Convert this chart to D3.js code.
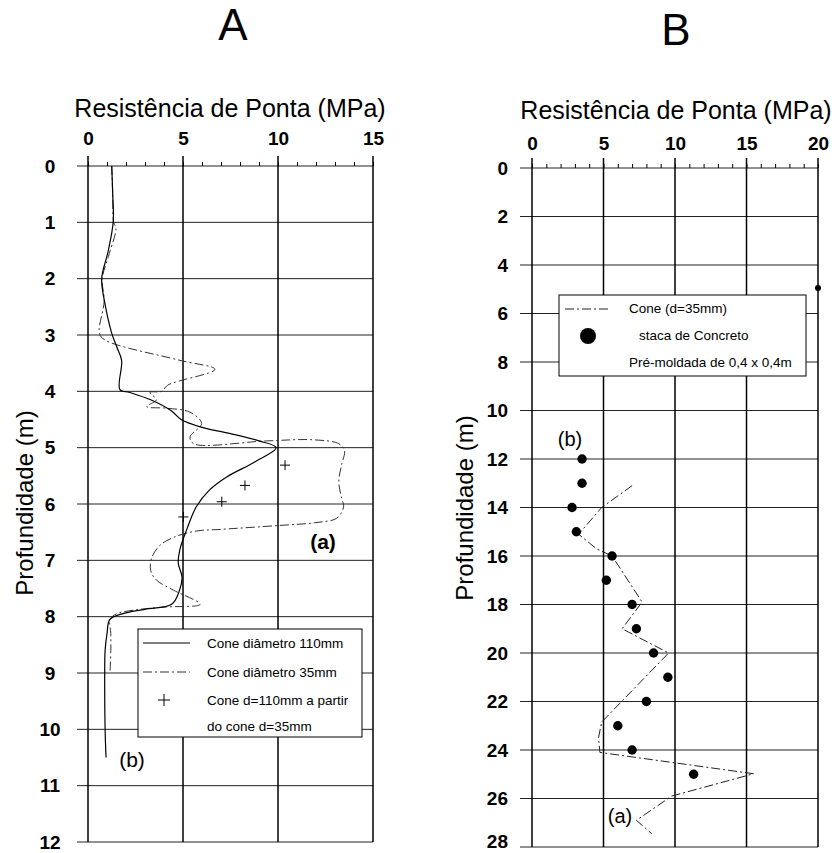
<!DOCTYPE html>
<html>
<head>
<meta charset="utf-8">
<script src="https://cdn.jsdelivr.net/npm/d3@7"></script>
<style>
  body { margin: 0; background: #fff; }
  svg { display: block; font-family: "Liberation Sans", Arial, sans-serif; }
  .tick text { font-family: "Liberation Sans", Arial, sans-serif; }
</style>
</head>
<body>
<svg id="vis" width="837" height="853"></svg>
<script>
// ---- panel A data (depth m, resistance MPa) ----
var coneA110 = [
  [1.25,0],[1.3,0.5],[1.33,0.98],[1.07,1.5],[0.72,2.0],[0.89,2.44],[1.25,2.97],[1.5,3.2],
  [1.77,3.45],[1.68,3.97],[2.2,4.02],[3.3,4.15],[4.4,4.35],[4.9,4.5],[6.0,4.64],[7.5,4.75],
  [9.0,4.88],[9.9,5.0],[8.8,5.25],[7.3,5.52],[6.4,5.75],[5.7,6.05],[5.2,6.45],[4.84,6.8],
  [4.75,7.05],[4.95,7.3],[4.8,7.55],[4.4,7.78],[3.0,7.87],[1.8,7.95],[1.15,8.05],[1.0,8.3],
  [0.9,8.6],[0.88,9.0],[0.9,10.0],[0.95,10.5]
];
var coneA35 = [
  [1.25,0],[1.3,0.5],[1.35,1.0],[1.47,1.11],[1.07,1.61],[0.75,2.0],[0.85,2.4],[0.6,2.97],
  [0.9,3.09],[4.84,3.45],[6.68,3.61],[4.2,3.89],[3.88,4.0],[3.26,4.02],[3.6,4.15],[3.09,4.27],
  [4.14,4.3],[5.37,4.37],[5.98,4.57],[5.37,4.81],[5.56,4.93],[9.4,4.88],[11.86,4.86],[13.2,4.93],
  [13.5,5.05],[13.35,5.3],[13.2,5.6],[13.35,5.9],[13.45,6.05],[13.1,6.25],[12.0,6.33],[10.1,6.38],
  [7.0,6.45],[5.7,6.48],[4.6,6.58],[3.8,6.73],[3.35,6.96],[3.3,7.18],[3.6,7.35],[4.5,7.53],
  [5.9,7.78],[4.0,7.83],[2.5,7.88],[1.5,7.95],[1.16,8.05],[1.2,8.3],[1.2,8.6],[1.16,9.0]
];
var crossesA = [[10.37,5.31],[8.26,5.67],[7.04,5.96],[5.02,6.23]];

// ---- panel B data ----
var coneB35 = [
  [7.0,13.1],[4.87,14.0],[3.26,15.1],[4.5,15.7],[5.6,16.0],[7.7,17.9],[6.3,19.0],[9.55,20.0],
  [4.87,22.85],[4.65,23.5],[4.75,24.1],[15.5,24.98],[9.77,25.9],[7.3,26.9],[8.37,27.45]
];
var pileB = [
  [20,4.95],[3.5,12],[3.5,13],[2.8,14],[3.1,15],[5.6,16],[5.2,17],[7.0,18],[7.3,19],
  [8.5,20],[9.5,21],[8.0,22],[6.0,23],[7.0,24],[11.3,25]
];

var xTicksA = [0,5,10,15];
var yTicksA = d3.range(0,13,1);
var xTicksB = [0,5,10,15,20];
var yTicksB = d3.range(0,29,2);

var legendA = ["Cone diâmetro 110mm","Cone diâmetro 35mm","Cone d=110mm a partir","do cone d=35mm"];
var legendB = ["Cone (d=35mm)","staca de Concreto","Pré-moldada de 0,4 x 0,4m"];

var svg = d3.select("#vis");
var FONT = "'Liberation Sans', Arial, sans-serif";
var DASH35 = "9,3,2,3";

function panel(opt) {
  var x = opt.x, y = opt.y;
  var g = svg.append("g");
  var x0 = x.range()[0], x1 = x.range()[1];
  var y0 = y.range()[0], y1 = y.range()[1];

  // horizontal grid
  g.append("g").selectAll("line").data(opt.yTicks).enter().append("line")
    .attr("x1", opt.gridLeft).attr("x2", x1)
    .attr("y1", function(d) { return y(d); }).attr("y2", function(d) { return y(d); })
    .attr("stroke", "#222").attr("stroke-width", 1);
  // vertical grid
  g.append("g").selectAll("line").data(opt.xTicks).enter().append("line")
    .attr("x1", function(d) { return x(d); }).attr("x2", function(d) { return x(d); })
    .attr("y1", y0 - 10).attr("y2", y1)
    .attr("stroke", "#000").attr("stroke-width", 1.5);

  // minor ticks on top
  var minor = d3.axisTop(x).tickValues(d3.range(x.domain()[0], x.domain()[1] + 1, 1))
    .tickSize(4).tickFormat("");
  g.append("g").attr("transform", "translate(0," + y0 + ")").call(minor)
    .call(function(s) { s.select(".domain").remove(); })
    .selectAll("line").attr("stroke", "#000");

  // top labels
  var top = d3.axisTop(x).tickValues(opt.xTicks).tickSize(0).tickPadding(opt.topPad);
  g.append("g").attr("transform", "translate(0," + y0 + ")").call(top)
    .call(function(s) { s.select(".domain").remove(); })
    .selectAll("text").attr("font-size", 19).attr("font-weight", "bold").attr("fill", "#000");

  // left labels
  var left = d3.axisLeft(y).tickValues(opt.yTicks).tickSize(0);
  var la = g.append("g").attr("transform", "translate(" + x0 + ",0)").call(left)
    .call(function(s) { s.select(".domain").remove(); });
  la.selectAll("text").attr("font-size", 19).attr("font-weight", "bold").attr("fill", "#000")
    .attr("x", opt.leftX - x0).attr("text-anchor", opt.leftAnchor)
    .attr("dy", function(d) { return y(d) > 844 ? "0.05em" : "0.32em"; });

  // axis titles
  g.append("text").attr("x", opt.titleX).attr("y", opt.titleY)
    .attr("text-anchor", "middle").attr("font-size", 25).attr("font-family", FONT)
    .text("Resistência de Ponta (MPa)");
  g.append("text")
    .attr("transform", "translate(" + opt.ylabX + "," + opt.ylabY + ") rotate(-90)")
    .attr("text-anchor", "middle").attr("font-size", 24).attr("font-family", FONT)
    .text("Profundidade (m)");
  g.append("text").attr("x", opt.panelX).attr("y", opt.panelY)
    .attr("text-anchor", "middle").attr("font-size", 44).attr("font-family", FONT)
    .text(opt.name);
  return g;
}

// ---------------- panel A ----------------
var xA = d3.scaleLinear().domain([0,15]).range([88,373]);
var yA = d3.scaleLinear().domain([0,12]).range([166,842]);
var gA = panel({x: xA, y: yA, xTicks: xTicksA, yTicks: yTicksA, gridLeft: 77, topPad: 21,
  leftX: 50, leftAnchor: "middle", titleX: 230, titleY: 117, ylabX: 33, ylabY: 503,
  panelX: 233, panelY: 40, name: "A"});

var lineA = d3.line().x(function(d) { return xA(d[0]); }).y(function(d) { return yA(d[1]); })
  .curve(d3.curveCatmullRom.alpha(0.5));
gA.append("path").datum(coneA35).attr("d", lineA).attr("fill", "none")
  .attr("stroke", "#333").attr("stroke-width", 1).attr("stroke-dasharray", DASH35);
gA.append("path").datum(coneA110).attr("d", lineA).attr("fill", "none")
  .attr("stroke", "#000").attr("stroke-width", 1.2);

function cross(g, cx, cy, s) {
  g.append("line").attr("x1", cx - s).attr("x2", cx + s).attr("y1", cy).attr("y2", cy)
    .attr("stroke", "#000").attr("stroke-width", 1);
  g.append("line").attr("x1", cx).attr("x2", cx).attr("y1", cy - s).attr("y2", cy + s)
    .attr("stroke", "#000").attr("stroke-width", 1);
}
crossesA.forEach(function(d) { cross(gA, xA(d[0]), yA(d[1]), 5); });

gA.append("text").attr("x", 323).attr("y", 549).attr("text-anchor", "middle")
  .attr("font-size", 21).attr("font-weight", "bold").text("(a)");
gA.append("text").attr("x", 132).attr("y", 767).attr("text-anchor", "middle")
  .attr("font-size", 21).text("(b)");

// legend A
var lgA = gA.append("g");
lgA.append("rect").attr("x", 138).attr("y", 629).attr("width", 224).attr("height", 108)
  .attr("fill", "#fff").attr("stroke", "#000").attr("stroke-width", 1);
lgA.append("line").attr("x1", 143).attr("x2", 190).attr("y1", 643).attr("y2", 643)
  .attr("stroke", "#000").attr("stroke-width", 1.2);
lgA.append("line").attr("x1", 143).attr("x2", 190).attr("y1", 672).attr("y2", 672)
  .attr("stroke", "#333").attr("stroke-width", 1).attr("stroke-dasharray", DASH35);
cross(lgA, 164, 700, 6);
lgA.selectAll("text.lg").data(legendA).enter().append("text").attr("class", "lg")
  .attr("x", 207).attr("y", function(d, i) { return [648, 677, 705, 731][i]; })
  .attr("font-size", 13.5).text(function(d) { return d; });

// ---------------- panel B ----------------
var xB = d3.scaleLinear().domain([0,20]).range([532,818]);
var yB = d3.scaleLinear().domain([0,28]).range([168,847]);
var gB = panel({x: xB, y: yB, xTicks: xTicksB, yTicks: yTicksB, gridLeft: 520, topPad: 18,
  leftX: 508, leftAnchor: "end", titleX: 676, titleY: 119, ylabX: 473, ylabY: 508,
  panelX: 676, panelY: 45, name: "B"});

var lineB = d3.line().x(function(d) { return xB(d[0]); }).y(function(d) { return yB(d[1]); });
gB.append("path").datum(coneB35).attr("d", lineB).attr("fill", "none")
  .attr("stroke", "#222").attr("stroke-width", 1).attr("stroke-dasharray", DASH35);
gB.selectAll("circle.pile").data(pileB).enter().append("circle").attr("class", "pile")
  .attr("cx", function(d) { return xB(d[0]); }).attr("cy", function(d) { return yB(d[1]); })
  .attr("r", function(d) { return d[0] >= 20 ? 3 : 4.7; }).attr("fill", "#000");

gB.append("text").attr("x", 570).attr("y", 446).attr("text-anchor", "middle")
  .attr("font-size", 20).text("(b)");
gB.append("text").attr("x", 620).attr("y", 823).attr("text-anchor", "middle")
  .attr("font-size", 20).text("(a)");

// legend B
var lgB = gB.append("g");
lgB.append("rect").attr("x", 559).attr("y", 295).attr("width", 247).attr("height", 81)
  .attr("fill", "#fff").attr("stroke", "#000").attr("stroke-width", 1);
lgB.append("line").attr("x1", 565).attr("x2", 610).attr("y1", 309).attr("y2", 309)
  .attr("stroke", "#222").attr("stroke-width", 1).attr("stroke-dasharray", DASH35);
lgB.append("circle").attr("cx", 588).attr("cy", 336).attr("r", 8).attr("fill", "#000");
lgB.selectAll("text.lg").data(legendB).enter().append("text").attr("class", "lg")
  .attr("x", function(d, i) { return [629, 639, 629][i]; })
  .attr("y", function(d, i) { return [313, 340, 367][i]; })
  .attr("font-size", 13.5).text(function(d) { return d; });
</script>
</body>
</html>
